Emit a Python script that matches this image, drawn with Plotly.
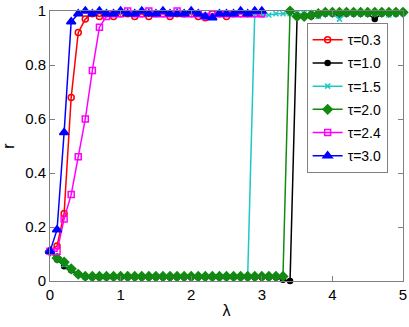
import plotly.graph_objects as go

# lambda grid (step 0.1)
lam = [round(i * 0.1, 1) for i in range(51)]

# tau = 0.3 (lambda 0 .. 3.0)
r_03 = [0.11, 0.13, 0.25, 0.68, 0.92, 0.97, 0.99, 0.98, 0.99, 0.98,
        0.99, 0.99, 0.98, 0.99, 0.98, 0.99, 0.99, 0.98, 0.99, 0.99,
        0.99, 0.98, 0.975, 0.99, 0.99, 0.98, 0.99, 0.99, 0.99, 0.99, 0.99]
# tau = 1.0 (lambda 0 .. 5.0)
r_10 = [0.11, 0.08, 0.055, 0.04, 0.025, 0.015, 0.013, 0.013, 0.013, 0.013,
        0.013, 0.013, 0.013, 0.013, 0.013, 0.013, 0.013, 0.013, 0.013, 0.013,
        0.013, 0.013, 0.013, 0.013, 0.013, 0.013, 0.013, 0.013, 0.013, 0.013,
        0.013, 0.013, 0.013, 0.005, 0.0, 0.98, 0.98, 0.98, 0.985, 0.99,
        0.99, 0.985, 0.99, 0.99, 0.99, 0.99, 0.97, 0.99, 0.99, 0.99, 0.995]
# tau = 1.5 (lambda 0 .. 5.0)
r_15 = [0.11, 0.085, 0.06, 0.045, 0.025, 0.015, 0.015, 0.015, 0.015, 0.015,
        0.015, 0.015, 0.015, 0.015, 0.015, 0.015, 0.015, 0.015, 0.015, 0.015,
        0.015, 0.015, 0.015, 0.015, 0.015, 0.015, 0.015, 0.015, 0.015, 0.99,
        0.985, 0.985, 0.99, 0.99, 0.99, 0.99, 0.99, 0.99, 0.98, 0.99,
        0.99, 0.97, 0.99, 0.99, 0.99, 0.99, 0.99, 0.99, 0.985, 0.99, 0.99]
# tau = 2.0 (lambda 0 .. 5.0)
r_20 = [0.11, 0.085, 0.07, 0.045, 0.025, 0.017, 0.017, 0.017, 0.017, 0.017,
        0.017, 0.017, 0.017, 0.017, 0.017, 0.017, 0.017, 0.017, 0.017, 0.017,
        0.017, 0.017, 0.017, 0.017, 0.017, 0.017, 0.017, 0.017, 0.017, 0.017,
        0.017, 0.017, 0.017, 0.017, 1.0, 0.98, 0.98, 0.985, 0.99, 0.995,
        0.995, 0.995, 0.995, 0.995, 0.995, 0.995, 0.995, 0.995, 0.995, 0.995, 0.995]
# tau = 2.4 (lambda 0 .. 3.0)
r_24 = [0.11, 0.11, 0.23, 0.32, 0.46, 0.60, 0.78, 0.94, 0.98, 0.99,
        0.99, 1.0, 0.99, 0.99, 1.0, 0.99, 0.99, 0.99, 1.0, 0.99,
        0.99, 0.99, 0.98, 0.99, 0.99, 0.99, 0.99, 0.99, 0.99, 0.99, 0.99]
# tau = 3.0 (lambda 0 .. 3.0)
r_30 = [0.11, 0.19, 0.55, 0.96, 0.99, 1.0, 0.99, 1.0, 0.99, 0.99,
        1.0, 0.99, 0.99, 1.0, 0.99, 0.99, 1.0, 0.99, 0.99, 0.99,
        1.0, 0.99, 0.98, 0.975, 0.99, 0.99, 0.99, 1.0, 0.99, 1.0, 1.0]

series = [
    ("τ=0.3", r_03, "#ff0000", "circle-open", 6),
    ("τ=1.0", r_10, "#000000", "circle", 5),
    ("τ=1.5", r_15, "#1ec8c8", "x-thin-open", 5),
    ("τ=2.0", r_20, "#128a12", "diamond", 7),
    ("τ=2.4", r_24, "#ff00ff", "square-open", 6),
    ("τ=3.0", r_30, "#0000ff", "triangle-up", 8),
]

fig = go.Figure()
for name, ys, color, symbol, size in series:
    fig.add_trace(go.Scatter(
        x=lam[:len(ys)], y=ys,
        mode="lines+markers",
        name=name,
        legendgroup=name,
        cliponaxis=False,
        line=dict(color=color, width=1.5),
        marker=dict(symbol=symbol, size=size, color=color,
                    line=dict(color=color, width=1.5)),
    ))

axis_common = dict(
    showline=True, linecolor="#808080", linewidth=1, mirror="allticks",
    ticks="inside", ticklen=5, tickcolor="#808080",
    showgrid=False, zeroline=False, automargin=False,
    tickfont=dict(family="Liberation Sans, Arial, sans-serif", size=15, color="black"),
)

fig.update_layout(
    width=409, height=327,
    margin=dict(l=50, r=6, t=11, b=46),
    paper_bgcolor="white", plot_bgcolor="white",
    font=dict(family="Liberation Sans, Arial, sans-serif", color="black"),
    xaxis=dict(range=[0, 5], tickvals=[0, 1, 2, 3, 4, 5],
               title=dict(text="λ", font=dict(size=16), standoff=2), **axis_common),
    yaxis=dict(range=[0, 1], tickvals=[0, 0.2, 0.4, 0.6, 0.8, 1],
               ticktext=["0", "0.2", "0.4", "0.6", "0.8", "1"],
               title=dict(text="r", font=dict(size=16), standoff=6), **axis_common),
    legend=dict(
        x=0.727, y=0.955, xanchor="left", yanchor="top",
        bgcolor="white", bordercolor="#808080", borderwidth=1,
        font=dict(size=14), itemwidth=30, tracegroupgap=2,
    ),
)

# page body has a default 8px margin; drop it so the figure sits at (0, 0)
fig.write_html("out.html", config={"displayModeBar": False},
               post_script="document.body.style.margin='0';")
